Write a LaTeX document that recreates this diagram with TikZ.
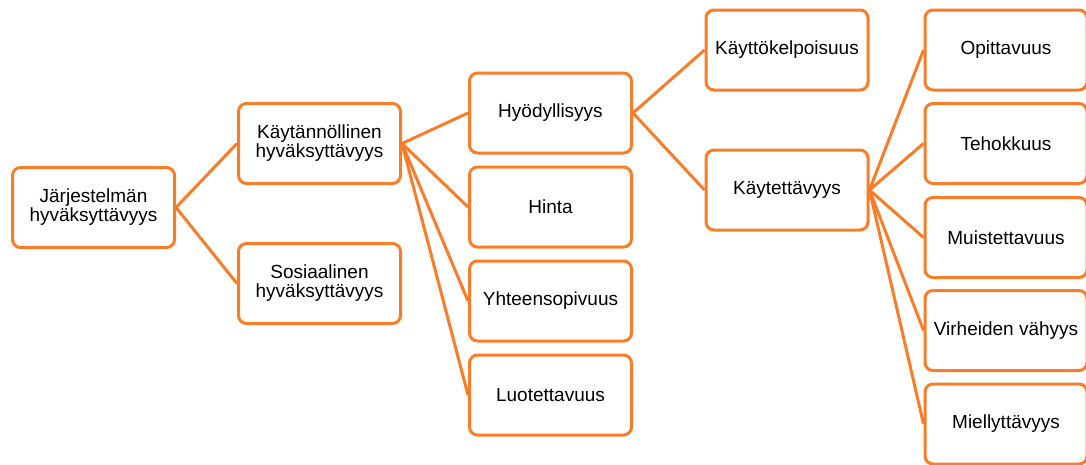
\documentclass[tikz,border=0pt]{standalone}
\usepackage{fontspec}
\setmainfont{Liberation Sans}
\usepackage{tikz}
\usetikzlibrary{shapes,positioning,fit}
\definecolor{hvorange}{RGB}{249,125,40}

\begin{document}
\begin{tikzpicture}[x=1pt, y=-1pt,
   box/.style={draw=hvorange, line width=3pt, rounded corners=8pt, fill=white,
      minimum width=162pt, minimum height=80pt, inner sep=0pt, align=center,
      font=\fontsize{19}{19}\selectfont},
   edge/.style={draw=hvorange, line width=3pt}]
         \useasboundingbox (0,0) rectangle (1086,464);
         \node [box] (JH) at (93.5, 207.5) {Järjestelmän\\hyväksyttävyys}; 
         \node [box] (KH) at (319.5, 143.5) {Käytännöllinen\\hyväksyttävyys}; 
         \node [box] (SH) at (319.5, 283.5) {Sosiaalinen\\hyväksyttävyys}; 
         \node [box] (HY) at (550.5, 113) {Hyödyllisyys}; 
         \node [box] (HI) at (550.5, 207) {Hinta}; 
         \node [box] (YH) at (550.5, 301) {Yhteensopivuus}; 
         \node [box] (LU) at (550.5, 395) {Luotettavuus}; 
         \node [box] (KK) at (787, 50) {Käyttökelpoisuus}; 
         \node [box] (KT) at (787, 190) {Käytettävyys}; 
         \node [box] (OP) at (1006, 50) {Opittavuus}; 
         \node [box] (TE) at (1006, 143.5) {Tehokkuus}; 
         \node [box] (MU) at (1006, 237.5) {Muistettavuus}; 
         \node [box] (VI) at (1006, 330.5) {Virheiden vähyys}; 
         \node [box] (MI) at (1006, 424) {Miellyttävyys}; 
         \draw [edge] (JH.east) -- (KH.west); 
         \draw [edge] (JH.east) -- (SH.west); 
         \foreach \c in {HY, HI, YH, LU}
            \draw [edge] (KH.east) -- (\c.west); 
         \draw [edge] (HY.east) -- (KK.west); 
         \draw [edge] (HY.east) -- (KT.west); 
         \foreach \c in {OP, TE, MU, VI, MI}
            \draw [edge] (KT.east) -- (\c.west); 
 \end{tikzpicture}
\end{document}
